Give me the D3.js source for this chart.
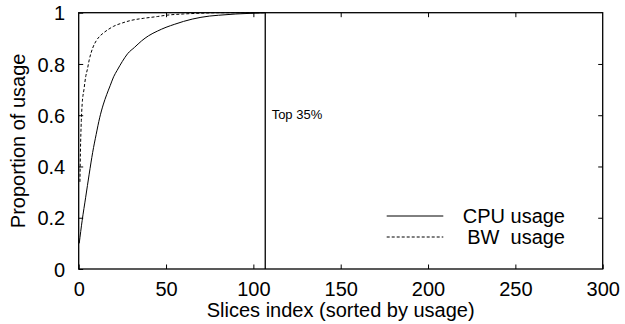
<!DOCTYPE html>
<html>
<head>
<meta charset="utf-8">
<script src="https://cdn.jsdelivr.net/npm/d3@7"></script>
<style>
  html, body { margin: 0; padding: 0; background: #fff; }
  svg text { font-family: "Liberation Sans", Arial, Helvetica, sans-serif; fill: #000; }
</style>
</head>
<body>
<svg id="chart" width="625" height="324"></svg>
<script>
// Cumulative share of CPU usage by slice index (slices sorted by usage)
const cpuIndex = [0.3, 2, 4, 6, 8, 10, 12, 14, 16, 18, 20, 22, 25, 28, 32, 36, 40, 45, 50, 55, 60, 65, 70, 75, 80, 90, 100, 106.8];
const cpuShare = [0.10, 0.19, 0.28, 0.37, 0.455, 0.525, 0.59, 0.64, 0.68, 0.715, 0.75, 0.775, 0.81, 0.84, 0.865, 0.89, 0.91, 0.928, 0.943, 0.955, 0.966, 0.975, 0.982, 0.987, 0.99, 0.995, 0.998, 1.0];

// Cumulative share of bandwidth usage
const bwIndex = [0.7, 1, 1.5, 2, 3, 4, 5, 6, 8, 10, 12, 14, 17, 20, 25, 30, 37, 45, 50, 60, 70, 80, 106.8];
const bwShare = [0.34, 0.46, 0.58, 0.645, 0.70, 0.75, 0.78, 0.815, 0.862, 0.89, 0.908, 0.92, 0.935, 0.947, 0.96, 0.97, 0.978, 0.985, 0.99, 0.995, 0.998, 1.0, 1.0];

const xTicks = [0, 50, 100, 150, 200, 250, 300];
const yTicks = [0, 0.2, 0.4, 0.6, 0.8, 1];
const cutoffIndex = 106.8;
const cutoffLabel = "Top 35%";
const seriesNames = ["CPU usage", "BW  usage"];

(function () {
const svg = d3.select("#chart");
const m = { left: 78.7, right: 602.7, top: 12.7, bottom: 269 };
const fontSize = "20px";

const x = d3.scaleLinear().domain([0, 300]).range([m.left, m.right]);
const y = d3.scaleLinear().domain([0, 1]).range([m.bottom, m.top]);

const tickLen = 4.5;

// bottom axis labels + inward ticks, mirrored on the top edge
const axisB = d3.axisBottom(x).tickValues(xTicks).tickSize(-tickLen).tickPadding(13).tickFormat(d3.format("d"));
const gx = svg.append("g").attr("transform", `translate(0,${m.bottom})`).call(axisB);
const axisT = d3.axisTop(x).tickValues(xTicks.slice(1, -1)).tickSize(-tickLen).tickFormat("");
const gxt = svg.append("g").attr("transform", `translate(0,${m.top})`).call(axisT);

// left axis labels + inward ticks, mirrored on the right edge
const axisL = d3.axisLeft(y).tickValues(yTicks).tickSize(-tickLen).tickPadding(13.5).tickFormat(d => d === 0 || d === 1 ? d3.format("d")(d) : d3.format(".1f")(d));
const gy = svg.append("g").attr("transform", `translate(${m.left},0)`).call(axisL);
const axisR = d3.axisRight(y).tickValues(yTicks.slice(1, -1)).tickSize(-tickLen).tickFormat("");
const gyr = svg.append("g").attr("transform", `translate(${m.right},0)`).call(axisR);

[gx, gxt, gy, gyr].forEach(g => {
  g.select(".domain").remove();
  g.selectAll(".tick line").attr("stroke", "#000").attr("stroke-width", 1);
  g.selectAll(".tick text").style("font-size", fontSize).attr("fill", "#000");
});
gy.selectAll(".tick text").attr("dy", "0.36em");

// frame
svg.append("rect")
  .attr("x", m.left).attr("y", m.top)
  .attr("width", m.right - m.left).attr("height", m.bottom - m.top)
  .attr("fill", "none").attr("stroke", "#000").attr("stroke-width", 1.3);

// curves
const line = d3.line().x(d => x(d[0])).y(d => y(d[1])).curve(d3.curveMonotoneX);
svg.append("path")
  .datum(d3.zip(cpuIndex, cpuShare))
  .attr("d", line).attr("fill", "none").attr("stroke", "#000").attr("stroke-width", 1);
svg.append("path")
  .datum(d3.zip(bwIndex, bwShare))
  .attr("d", line).attr("fill", "none").attr("stroke", "#000").attr("stroke-width", 1)
  .attr("stroke-dasharray", "3,2");

// cutoff marker
svg.append("line")
  .attr("x1", x(cutoffIndex)).attr("x2", x(cutoffIndex))
  .attr("y1", y(0)).attr("y2", y(1))
  .attr("stroke", "#000").attr("stroke-width", 1.3);
svg.append("text")
  .attr("x", x(cutoffIndex) + 6.4).attr("y", 118.5)
  .style("font-size", "13px")
  .text(cutoffLabel);

// legend
const legendRows = [
  { name: seriesNames[0], dash: null, y: 216 },
  { name: seriesNames[1], dash: "3,2", y: 237 }
];
legendRows.forEach(r => {
  svg.append("line")
    .attr("x1", 386.7).attr("x2", 443.3).attr("y1", r.y).attr("y2", r.y)
    .attr("stroke", "#000").attr("stroke-width", 1)
    .attr("stroke-dasharray", r.dash);
  svg.append("text")
    .attr("x", 565).attr("y", r.y).attr("dy", "0.36em")
    .attr("text-anchor", "end")
    .attr("xml:space", "preserve")
    .style("white-space", "pre")
    .style("font-size", fontSize)
    .text(r.name);
});

// axis titles
svg.append("text")
  .attr("x", (m.left + m.right) / 2).attr("y", 316.5)
  .attr("text-anchor", "middle")
  .style("font-size", fontSize)
  .text("Slices index (sorted by usage)");
svg.append("text")
  .attr("transform", `translate(25,${(m.top + m.bottom) / 2}) rotate(-90)`)
  .attr("text-anchor", "middle")
  .style("font-size", fontSize)
  .text("Proportion of usage");
})();
</script>
</body>
</html>
